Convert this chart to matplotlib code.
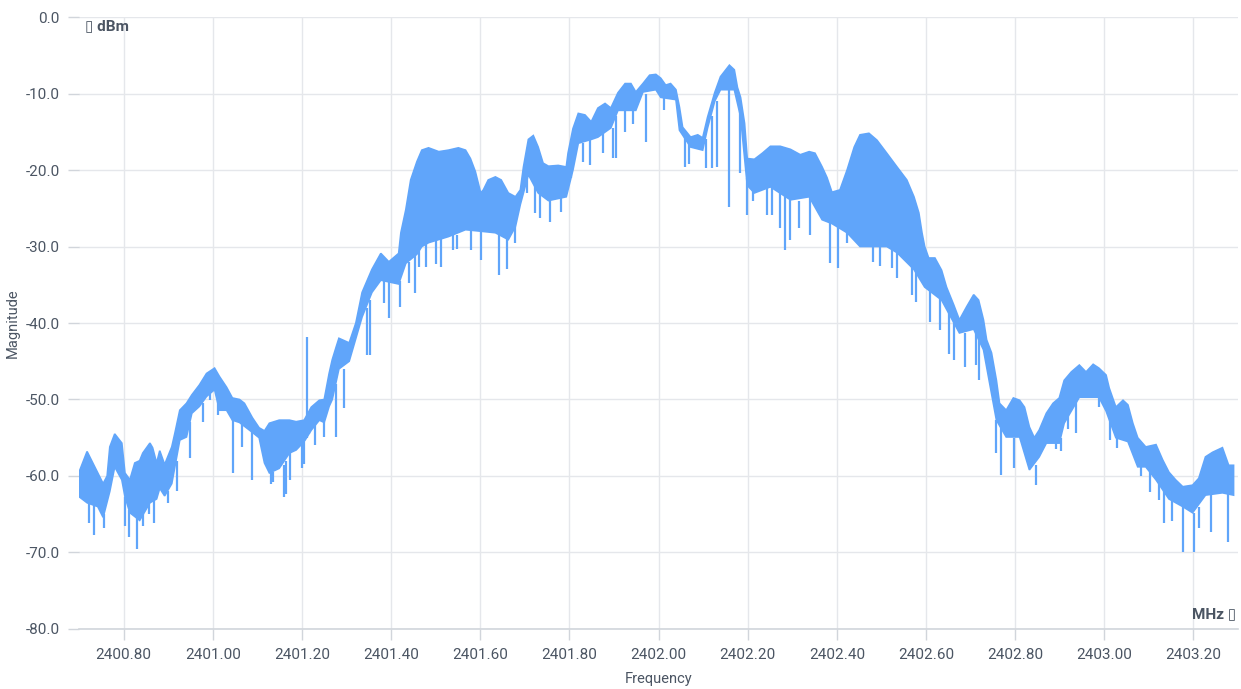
import matplotlib
matplotlib.use("Agg")
import matplotlib.pyplot as plt

# upper envelope of the spectrum trace (MHz, dBm)
TOP_F = [2400.700, 2400.718, 2400.742, 2400.754, 2400.763, 2400.769, 2400.780, 2400.796,
         2400.803, 2400.814, 2400.825, 2400.836, 2400.843, 2400.859, 2400.865, 2400.874,
         2400.881, 2400.892, 2400.908, 2400.915, 2400.926, 2400.941, 2400.953, 2400.970,
         2400.986, 2401.004, 2401.015, 2401.031, 2401.044, 2401.060, 2401.071, 2401.089,
         2401.104, 2401.116, 2401.127, 2401.149, 2401.172, 2401.187, 2401.205, 2401.221,
         2401.239, 2401.250, 2401.261, 2401.268, 2401.277, 2401.283, 2401.306, 2401.321,
         2401.335, 2401.357, 2401.377, 2401.395, 2401.417, 2401.422, 2401.433, 2401.444,
         2401.458, 2401.469, 2401.484, 2401.507, 2401.529, 2401.551, 2401.567, 2401.578,
         2401.589, 2401.601, 2401.607, 2401.618, 2401.634, 2401.647, 2401.663, 2401.679,
         2401.690, 2401.697, 2401.708, 2401.719, 2401.730, 2401.741, 2401.753, 2401.775,
         2401.793, 2401.797, 2401.808, 2401.820, 2401.835, 2401.849, 2401.864, 2401.880,
         2401.893, 2401.909, 2401.925, 2401.938, 2401.949, 2401.965, 2401.980, 2401.994,
         2402.005, 2402.016, 2402.027, 2402.039, 2402.047, 2402.054, 2402.072, 2402.088,
         2402.099, 2402.110, 2402.126, 2402.139, 2402.159, 2402.170, 2402.177, 2402.184,
         2402.193, 2402.199, 2402.215, 2402.233, 2402.251, 2402.273, 2402.296, 2402.318,
         2402.338, 2402.351, 2402.367, 2402.378, 2402.389, 2402.407, 2402.423, 2402.439,
         2402.452, 2402.472, 2402.490, 2402.512, 2402.535, 2402.557, 2402.573, 2402.584,
         2402.591, 2402.597, 2402.606, 2402.620, 2402.635, 2402.646, 2402.662, 2402.675,
         2402.691, 2402.707, 2402.718, 2402.729, 2402.736, 2402.747, 2402.758, 2402.765,
         2402.780, 2402.796, 2402.810, 2402.821, 2402.832, 2402.843, 2402.854, 2402.870,
         2402.885, 2402.899, 2402.910, 2402.926, 2402.944, 2402.959, 2402.975, 2402.988,
         2403.004, 2403.011, 2403.026, 2403.042, 2403.053, 2403.064, 2403.075, 2403.093,
         2403.116, 2403.131, 2403.145, 2403.160, 2403.176, 2403.198, 2403.212, 2403.227,
         2403.243, 2403.265, 2403.279, 2403.290]
TOP_V = [-59.5, -56.8, -59.6, -61.0, -60.0, -56.2, -54.5, -55.7,
         -59.6, -60.5, -58.3, -58.0, -57.0, -55.7, -56.3, -58.3,
         -56.7, -58.5, -56.2, -54.4, -51.4, -50.5, -49.4, -48.1,
         -46.6, -45.9, -47.0, -48.4, -49.8, -50.0, -50.5, -52.4,
         -53.7, -54.1, -53.1, -52.7, -52.7, -52.9, -52.7, -51.0,
         -50.1, -50.0, -46.6, -44.8, -43.1, -42.0, -42.6, -40.0,
         -36.0, -33.0, -30.9, -32.0, -30.9, -28.2, -25.2, -21.3,
         -18.9, -17.4, -17.1, -17.6, -17.4, -17.1, -17.4, -18.5,
         -20.2, -23.0, -22.6, -21.3, -20.9, -21.3, -23.0, -23.5,
         -22.6, -19.6, -16.0, -15.5, -17.0, -19.1, -19.5, -19.4,
         -19.6, -17.8, -14.6, -12.6, -12.8, -13.7, -11.9, -11.3,
         -11.9, -9.9, -8.7, -8.7, -9.8, -8.7, -7.6, -7.5,
         -8.0, -8.9, -8.7, -9.5, -11.8, -14.4, -15.7, -15.4,
         -15.8, -13.1, -9.9, -7.8, -6.3, -6.9, -9.2, -10.5,
         -13.9, -18.5, -18.6, -17.8, -16.9, -16.9, -17.3, -18.0,
         -17.6, -17.8, -19.6, -21.0, -22.9, -22.6, -20.0, -17.0,
         -15.4, -15.2, -16.1, -17.8, -19.6, -21.3, -23.5, -25.6,
         -28.2, -30.0, -31.5, -31.5, -33.1, -35.3, -37.6, -39.6,
         -37.9, -36.3, -37.0, -39.6, -42.2, -43.9, -47.5, -50.5,
         -51.4, -49.8, -50.1, -51.0, -53.6, -55.0, -54.0, -51.8,
         -50.5, -49.8, -47.5, -46.4, -45.5, -46.4, -45.4, -45.9,
         -46.8, -48.5, -51.0, -50.1, -50.7, -53.1, -55.0, -56.2,
         -55.9, -57.9, -59.5, -60.5, -61.4, -61.2, -60.3, -57.5,
         -56.9, -56.3, -58.6, -58.6]

# lower edge of the dense band
BOT_F = [2400.700, 2400.718, 2400.742, 2400.754, 2400.769, 2400.780, 2400.796, 2400.803,
         2400.814, 2400.825, 2400.836, 2400.859, 2400.874, 2400.881, 2400.892, 2400.908,
         2400.926, 2400.941, 2400.953, 2400.970, 2400.986, 2401.004, 2401.015, 2401.031,
         2401.044, 2401.060, 2401.089, 2401.104, 2401.116, 2401.127, 2401.149, 2401.172,
         2401.187, 2401.205, 2401.221, 2401.239, 2401.250, 2401.261, 2401.268, 2401.283,
         2401.306, 2401.335, 2401.357, 2401.377, 2401.417, 2401.433, 2401.458, 2401.469,
         2401.484, 2401.529, 2401.567, 2401.601, 2401.634, 2401.663, 2401.679, 2401.690,
         2401.708, 2401.730, 2401.753, 2401.793, 2401.808, 2401.820, 2401.849, 2401.864,
         2401.893, 2401.909, 2401.949, 2401.965, 2401.994, 2402.005, 2402.039, 2402.047,
         2402.072, 2402.099, 2402.110, 2402.126, 2402.139, 2402.170, 2402.184, 2402.199,
         2402.215, 2402.251, 2402.296, 2402.338, 2402.367, 2402.389, 2402.423, 2402.452,
         2402.512, 2402.535, 2402.573, 2402.597, 2402.635, 2402.675, 2402.707, 2402.729,
         2402.758, 2402.780, 2402.810, 2402.832, 2402.854, 2402.870, 2402.899, 2402.910,
         2402.944, 2402.988, 2403.004, 2403.026, 2403.053, 2403.075, 2403.093, 2403.116,
         2403.145, 2403.176, 2403.198, 2403.227, 2403.265, 2403.290]
BOT_V = [-62.7, -63.5, -64.0, -65.4, -62.0, -58.8, -60.5, -62.7,
         -64.8, -65.3, -65.8, -63.5, -63.0, -61.6, -62.6, -61.0,
         -55.3, -54.9, -51.8, -50.9, -49.6, -48.7, -51.4, -51.4,
         -52.7, -53.0, -54.3, -55.0, -58.3, -59.6, -59.0, -57.0,
         -56.6, -55.5, -54.0, -52.7, -53.0, -50.9, -50.0, -46.0,
         -45.0, -39.2, -36.0, -34.4, -34.9, -32.2, -31.0, -30.0,
         -29.5, -28.7, -27.8, -28.0, -28.2, -29.1, -27.4, -24.5,
         -20.6, -23.0, -24.0, -23.5, -20.0, -16.5, -16.0, -15.7,
         -14.5, -12.2, -12.2, -9.8, -9.5, -10.5, -10.8, -14.8,
         -17.0, -17.4, -14.5, -11.0, -9.5, -9.5, -13.0, -22.0,
         -23.0, -22.2, -23.9, -23.5, -26.5, -27.0, -28.2, -30.0,
         -30.0, -30.8, -33.0, -35.3, -37.0, -41.3, -40.8, -43.5,
         -52.7, -54.9, -54.9, -59.2, -57.5, -55.7, -55.7, -53.1,
         -49.7, -49.7, -51.5, -55.0, -55.5, -58.8, -58.8, -60.5,
         -63.0, -64.0, -64.8, -62.5, -62.2, -62.5]

# narrow spikes: frequency, low end, high end
SPIKE_F = [2400.722, 2400.734, 2400.756, 2400.803, 2400.812, 2400.830, 2400.843, 2400.856,
           2400.868, 2400.899, 2400.919, 2400.948, 2400.977, 2400.993, 2401.011, 2401.046,
           2401.066, 2401.087, 2401.131, 2401.136, 2401.160, 2401.165, 2401.174, 2401.201,
           2401.205, 2401.212, 2401.216, 2401.230, 2401.250, 2401.277, 2401.294, 2401.346,
           2401.353, 2401.384, 2401.395, 2401.420, 2401.440, 2401.453, 2401.462, 2401.478,
           2401.500, 2401.513, 2401.540, 2401.549, 2401.580, 2401.601, 2401.641, 2401.659,
           2401.679, 2401.706, 2401.723, 2401.735, 2401.757, 2401.782, 2401.804, 2401.831,
           2401.846, 2401.875, 2401.898, 2401.904, 2401.925, 2401.942, 2401.971, 2402.012,
           2402.059, 2402.068, 2402.106, 2402.121, 2402.132, 2402.159, 2402.182, 2402.199,
           2402.213, 2402.244, 2402.255, 2402.273, 2402.284, 2402.296, 2402.316, 2402.340,
           2402.385, 2402.403, 2402.423, 2402.461, 2402.481, 2402.497, 2402.523, 2402.535,
           2402.568, 2402.577, 2402.608, 2402.631, 2402.651, 2402.662, 2402.687, 2402.713,
           2402.718, 2402.751, 2402.758, 2402.769, 2402.798, 2402.825, 2402.847, 2402.892,
           2402.903, 2402.919, 2402.937, 2402.988, 2403.013, 2403.028, 2403.082, 2403.102,
           2403.122, 2403.133, 2403.153, 2403.176, 2403.202, 2403.212, 2403.239, 2403.277]
SPIKE_LO = [-66.1, -67.7, -66.8, -66.6, -68.0, -69.5, -66.6, -65.0,
            -66.2, -63.5, -62.0, -57.7, -52.9, -50.1, -52.0, -59.6,
            -56.2, -60.5, -61.0, -60.8, -62.7, -62.3, -60.5, -59.0,
            -58.4, -55.0, -54.5, -56.0, -54.9, -54.9, -51.1, -44.2,
            -44.2, -37.4, -39.3, -37.9, -34.8, -36.1, -32.7, -32.7,
            -32.3, -32.7, -30.5, -30.3, -30.5, -31.8, -33.7, -33.0,
            -29.5, -23.0, -25.6, -26.3, -26.8, -25.5, -21.1, -19.0,
            -19.3, -17.8, -18.4, -18.4, -15.0, -14.0, -16.3, -12.2,
            -19.6, -19.2, -19.7, -19.8, -19.6, -24.8, -20.4, -25.9,
            -24.1, -25.9, -25.9, -27.6, -30.5, -29.2, -27.6, -28.5,
            -32.2, -32.8, -29.5, -30.0, -32.0, -32.6, -32.8, -34.1,
            -36.3, -37.2, -39.9, -40.9, -44.0, -44.8, -45.7, -45.5,
            -47.5, -48.0, -57.0, -59.9, -59.0, -57.0, -61.2, -56.5,
            -56.7, -53.8, -54.4, -51.0, -55.3, -56.3, -60.0, -62.1,
            -63.1, -66.1, -65.9, -69.9, -69.9, -66.8, -67.3, -68.6]
SPIKE_HI = [-63.5, -63.8, -65.0, -62.7, -64.5, -65.5, -65.0, -63.5,
            -63.0, -62.0, -58.0, -53.0, -50.5, -49.0, -50.0, -52.7,
            -53.0, -54.3, -59.5, -59.5, -58.5, -58.0, -57.0, -55.7,
            -55.5, -41.8, -54.0, -53.0, -53.0, -48.0, -46.0, -38.0,
            -37.0, -34.4, -34.5, -34.5, -32.0, -31.0, -30.0, -29.5,
            -29.0, -29.0, -28.5, -28.5, -28.0, -28.0, -28.5, -29.0,
            -27.4, -21.0, -22.0, -23.0, -24.0, -23.5, -20.0, -16.5,
            -16.0, -15.0, -14.5, -13.0, -12.2, -12.2, -10.0, -10.5,
            -15.0, -16.0, -16.0, -13.0, -11.0, -9.5, -12.0, -21.0,
            -22.5, -22.2, -22.2, -23.0, -23.0, -23.9, -24.0, -23.5,
            -26.5, -27.5, -28.0, -29.0, -30.0, -30.0, -30.3, -30.8,
            -32.5, -33.0, -35.5, -36.8, -38.0, -39.0, -41.3, -41.0,
            -41.5, -46.0, -52.7, -53.0, -55.0, -56.0, -58.5, -55.7,
            -55.0, -51.5, -50.0, -49.7, -52.0, -55.0, -58.8, -59.5,
            -61.0, -62.0, -63.0, -64.0, -64.8, -64.0, -62.5, -62.2]

Y_TICKS = [0, -10, -20, -30, -40, -50, -60, -70, -80]
X_TICKS = [2400.8, 2401.0, 2401.2, 2401.4, 2401.6, 2401.8, 2402.0,
           2402.2, 2402.4, 2402.6, 2402.8, 2403.0, 2403.2]

BLUE = "#60a5fa"
GRID = "#e5e7eb"
TEXT = "#4b5563"

plt.rcParams["font.family"] = ["Roboto", "DejaVu Sans"]

fig = plt.figure(figsize=(12.41, 6.89), dpi=100)
ax = fig.add_axes([0.0637, 0.0871, 0.9339, 0.8882])

poly_x = TOP_F + BOT_F[::-1]
poly_y = TOP_V + BOT_V[::-1]
ax.fill(poly_x, poly_y, color=BLUE, lw=1.2, zorder=3)
ax.vlines(SPIKE_F, SPIKE_LO, SPIKE_HI, color=BLUE, lw=1.6, zorder=3)

ax.set_xlim(2400.70, 2403.30)
ax.set_ylim(-80, 0)
ax.set_xticks(X_TICKS)
ax.set_xticklabels([f"{t:.2f}" for t in X_TICKS])
ax.set_yticks(Y_TICKS)
ax.set_yticklabels([f"{t:.1f}" for t in Y_TICKS])
ax.grid(True, color=GRID, lw=1.0, zorder=0)
ax.set_axisbelow(True)

for side in ["top", "right", "left"]:
    ax.spines[side].set_visible(False)
ax.spines["bottom"].set_color("#d1d5db")
ax.spines["bottom"].set_linewidth(1.2)
ax.tick_params(axis="both", colors="#d1d5db", labelcolor=TEXT, labelsize=11,
               length=8, width=1.0)
ax.tick_params(axis="y", pad=6)
ax.tick_params(axis="x", pad=6)

ax.set_xlabel("Frequency", color=TEXT, fontsize=10.5)
ax.xaxis.set_label_coords(0.5, -0.070)
ax.set_ylabel("Magnitude", color=TEXT, fontsize=10.5)
ax.yaxis.set_label_coords(-0.051, 0.5)

ax.text(0.005, 0.996, "\u25af dBm", transform=ax.transAxes, ha="left", va="top",
        fontsize=11, fontweight="bold", color=TEXT, family=["Roboto", "DejaVu Sans"])
ax.text(0.998, 0.012, "MHz \u25af", transform=ax.transAxes, ha="right", va="bottom",
        fontsize=11, fontweight="bold", color=TEXT, family=["Roboto", "DejaVu Sans"])

fig.savefig("out.png", dpi=100)
